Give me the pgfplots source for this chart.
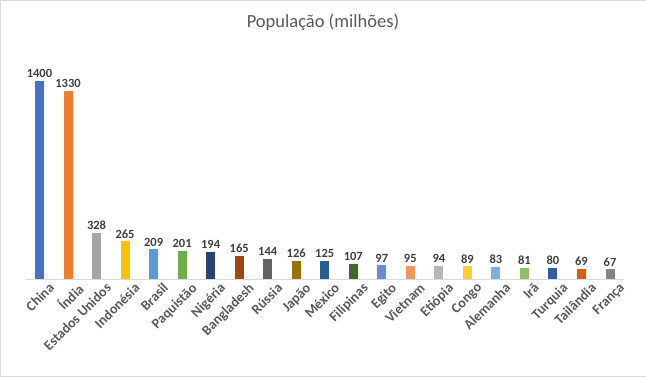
\documentclass[border=0pt]{standalone}
\usepackage{fontspec}
\setmainfont{Carlito}
\usepackage{pgfplots}
\pgfplotsset{compat=1.18}
\definecolor{tx}{HTML}{595959}
\definecolor{lb}{HTML}{404040}
\definecolor{c1}{HTML}{4472C4}
\definecolor{c2}{HTML}{ED7D31}
\definecolor{c3}{HTML}{A5A5A5}
\definecolor{c4}{HTML}{FFC000}
\definecolor{c5}{HTML}{5B9BD5}
\definecolor{c6}{HTML}{70AD47}
\definecolor{c7}{HTML}{264478}
\definecolor{c8}{HTML}{9E480E}
\definecolor{c9}{HTML}{636363}
\definecolor{c10}{HTML}{997300}
\definecolor{c11}{HTML}{255E91}
\definecolor{c12}{HTML}{43682B}
\definecolor{c13}{HTML}{698ED0}
\definecolor{c14}{HTML}{F1975A}
\definecolor{c15}{HTML}{B7B7B7}
\definecolor{c16}{HTML}{FFCD33}
\definecolor{c17}{HTML}{7CAFDD}
\definecolor{c18}{HTML}{8CC168}
\definecolor{c19}{HTML}{335AA1}
\definecolor{c20}{HTML}{D26012}
\definecolor{c21}{HTML}{848484}
\begin{document}
\begin{tikzpicture}
\path[draw=black!15] (0.5pt,0.5pt) rectangle (645.5pt,376.5pt);
\node[text=tx,font=\fontsize{18.5}{20}\selectfont] at (323pt,354pt) {População (milhões)};
\begin{axis}[at={(25.5pt,98pt)}, anchor=south west, scale only axis,
  width=598.5pt, height=226pt,
  xmin=-0.5, xmax=20.5, ymin=0, ymax=1600,
  axis y line=none, axis x line*=bottom,
  x axis line style={draw=black!15,-},
  xtick={0,...,20},
  xticklabels={China,Índia,Estados Unidos,Indonésia,Brasil,Paquistão,Nigéria,Bangladesh,Rússia,Japão,México,Filipinas,Egito,Vietnam,Etiópia,Congo,Alemanha,Irã,Turquia,Tailândia,França},
  xticklabel style={rotate=45, anchor=north east, font=\bfseries\fontsize{14}{16}\selectfont, text=tx, inner sep=0pt, xshift=4pt, yshift=-8pt},
  major tick length=0pt,
  /pgf/number format/assume math mode=true,
  /pgf/number format/1000 sep={},
  ybar, bar width=9pt, bar shift=0pt,
  nodes near coords,
  nodes near coords style={font=\bfseries\fontsize{12.5}{14}\selectfont, text=lb, inner sep=3pt},
  every axis plot/.append style={draw=none},
  clip=false]
\addplot[fill=c1] coordinates {(0,1400)};
\addplot[fill=c2] coordinates {(1,1330)};
\addplot[fill=c3] coordinates {(2,328)};
\addplot[fill=c4] coordinates {(3,265)};
\addplot[fill=c5] coordinates {(4,209)};
\addplot[fill=c6] coordinates {(5,201)};
\addplot[fill=c7] coordinates {(6,194)};
\addplot[fill=c8] coordinates {(7,165)};
\addplot[fill=c9] coordinates {(8,144)};
\addplot[fill=c10] coordinates {(9,126)};
\addplot[fill=c11] coordinates {(10,125)};
\addplot[fill=c12] coordinates {(11,107)};
\addplot[fill=c13] coordinates {(12,97)};
\addplot[fill=c14] coordinates {(13,95)};
\addplot[fill=c15] coordinates {(14,94)};
\addplot[fill=c16] coordinates {(15,89)};
\addplot[fill=c17] coordinates {(16,83)};
\addplot[fill=c18] coordinates {(17,81)};
\addplot[fill=c19] coordinates {(18,80)};
\addplot[fill=c20] coordinates {(19,69)};
\addplot[fill=c21] coordinates {(20,67)};
\end{axis}
\end{tikzpicture}
\end{document}
